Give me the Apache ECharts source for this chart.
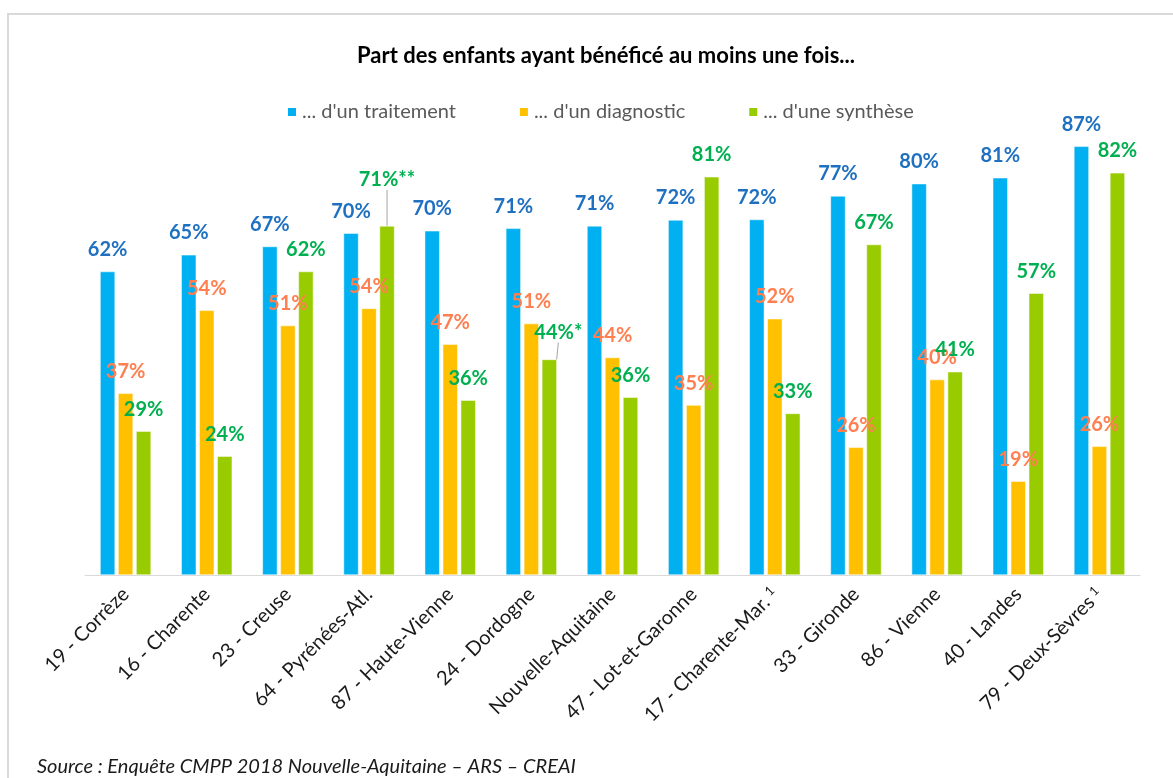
<!DOCTYPE html>
<html>
<head>
<meta charset="utf-8">
<script src="https://cdn.jsdelivr.net/npm/echarts@6/dist/echarts.min.js"></script>
<style>html,body{margin:0;padding:0;background:#fff;}#c{width:1173px;height:778px;}</style>
</head>
<body>
<div id="c"></div>
<script>
var categories = ['19 - Corrèze','16 - Charente','23 - Creuse','64 - Pyrénées-Atl.','87 - Haute-Vienne','24 - Dordogne','Nouvelle-Aquitaine','47 - Lot-et-Garonne','17 - Charente-Mar.','33 - Gironde','86 - Vienne','40 - Landes','79 - Deux-Sèvres'];
var superscripts = ['','','','','','','','','1','','','','1'];
var traitement = [61.8,65.2,66.9,69.6,70.1,70.6,71.1,72.3,72.4,77.2,79.7,80.9,87.3];
var diagnostic = [37.0,53.9,50.8,54.3,47.0,51.2,44.3,34.6,52.2,26.0,39.8,19.1,26.2];
var synthese = [29.3,24.2,61.8,71.1,35.6,43.9,36.2,81.1,32.9,67.3,41.4,57.4,81.9];
var syntheseNotes = ['','','','**','','*','','','','','','',''];
var seriesNames = ['... d\'un traitement','... d\'un diagnostic','... d\'une synthèse'];
var sourceText = 'Source : Enquête CMPP 2018 Nouvelle-Aquitaine – ARS – CREAI';
var titleText = 'Part des enfants ayant bénéficé au moins une fois...';

var FONT = 'Lato, "Noto Sans", sans-serif';
var chart = echarts.init(document.getElementById('c'), null, {renderer:'canvas'});

function pct(v){ return Math.round(v) + '%'; }

function labelCfg(color){
  return {show:true, position:'top', distance:12, color:color, fontFamily:FONT, fontWeight:'bold', fontSize:20,
    formatter:function(p){ return pct(p.value); }};
}

var synData = synthese.map(function(v,i){
  var item = {value:v};
  if (syntheseNotes[i] === '**') {
    item.label = {formatter: pct(v) + '**'};
    item.labelLine = {show:true, lineStyle:{color:'#a6a6a6', width:1}};
  } else if (syntheseNotes[i] === '*') {
    item.label = {formatter: pct(v) + '*'};
    item.labelLine = {show:true, lineStyle:{color:'#a6a6a6', width:1}};
  }
  return item;
});

var option = {
  backgroundColor:'#ffffff',
  animation:false,
  title:{text:titleText, left:352, top:40, textStyle:{fontFamily:FONT, fontWeight:'bold', fontSize:22, color:'#000'}},
  legend:{top:97, left:281, itemWidth:10, itemHeight:10, itemGap:62, icon:'rect',
    textStyle:{fontFamily:FONT, fontSize:20, color:'#595959'}},
  grid:{left:85, right:33, top:84, bottom:203},
  xAxis:{type:'category', data:categories,
    axisLine:{lineStyle:{color:'#d9d9d9', width:1}}, axisTick:{show:false},
    axisLabel:{interval:0, rotate:45, margin:16, fontFamily:FONT, fontSize:20, color:'#1a1a1a',
      formatter:function(v, i){ return superscripts[i] ? '{n|' + v + '}{s|' + superscripts[i] + '}' : '{n|' + v + '}'; },
      rich:{n:{fontFamily:FONT, fontSize:20, color:'#1a1a1a'}, s:{fontFamily:FONT, fontSize:13, color:'#1a1a1a', verticalAlign:'top', padding:[0,0,6,4]}}}},
  yAxis:{type:'value', min:0, max:100, show:false, splitLine:{show:false}},
  labelLayout:function(params){
    if (params.seriesIndex !== 2) return {};
    var i = params.dataIndex;
    if (syntheseNotes[i] === '**') return {dy:-24};
    if (syntheseNotes[i] === '*') return {dx:9, dy:-5};
    return {};
  },
  series:[
    {name:seriesNames[0], type:'bar', data:traitement, barWidth:15, barGap:'20%',
      itemStyle:{color:'#00B0F0', borderColor:'#ffffff', borderWidth:0.5}, label:labelCfg('#1F70C1')},
    {name:seriesNames[1], type:'bar', data:diagnostic, barWidth:15, barGap:'20%',
      itemStyle:{color:'#FFC000', borderColor:'#ffffff', borderWidth:0.5}, label:labelCfg('#FF7F50')},
    {name:seriesNames[2], type:'bar', data:synData, barWidth:15, barGap:'20%',
      itemStyle:{color:'#99CC00', borderColor:'#ffffff', borderWidth:0.5}, label:labelCfg('#00B050'),
      labelLine:{show:false, lineStyle:{color:'#a6a6a6'}}}
  ],
  graphic:[
    {type:'rect', shape:{x:8, y:14, width:1200, height:800}, style:{fill:'none', stroke:'#d9d9d9', lineWidth:2}, silent:true, z:-1},
    {type:'text', left:37, top:757, style:{text:sourceText, fontFamily:FONT, fontStyle:'italic', fontSize:20, fill:'#1a1a1a'}}
  ]
};
chart.setOption(option);
</script>
</body>
</html>
